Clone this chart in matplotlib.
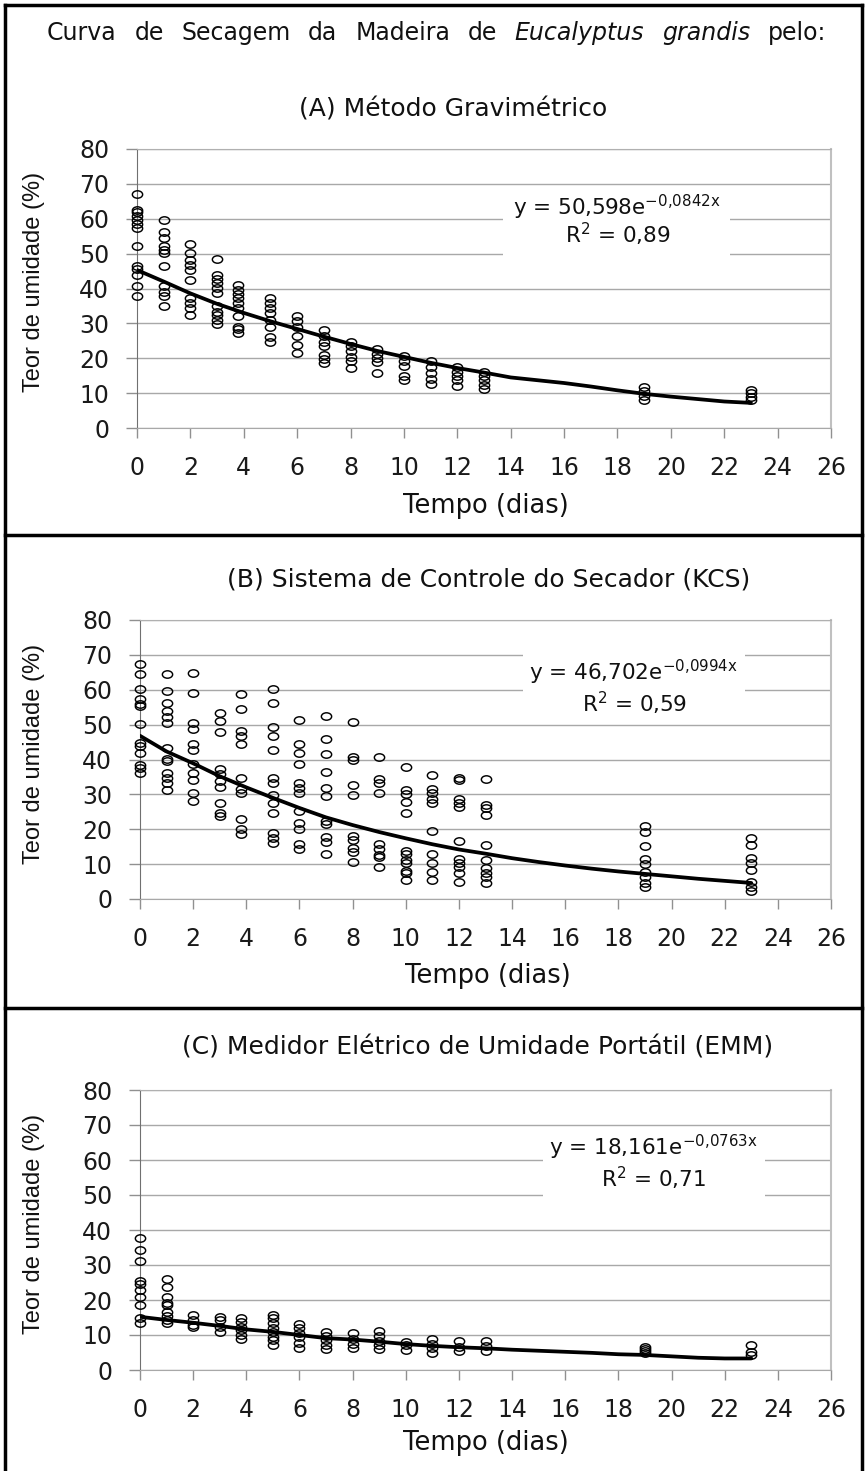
import matplotlib
matplotlib.use('Agg')
import matplotlib.pyplot as plt
from matplotlib.lines import Line2D
from matplotlib.patches import Rectangle
from matplotlib.path import Path
from matplotlib.transforms import Affine2D

# ---- data ----
days = [0, 1, 2, 3, 3.8, 5, 6, 7, 8, 9, 10, 11, 12, 13, 19, 23]

grav = [
    [67.1, 62.6, 61.8, 60.8, 59.7, 58.5, 57.3, 52.2, 46.5, 45.5, 43.9, 40.8, 37.9],
    [59.7, 56.3, 54.4, 52.2, 51.1, 50.1, 46.5, 40.6, 39.1, 37.9, 34.9],
    [52.8, 50.3, 48.2, 46.8, 45.4, 42.3, 37.2, 35.8, 34.4, 32.5],
    [48.4, 43.9, 42.7, 41.7, 40.1, 38.7, 34.9, 33.4, 32.5, 31.0, 29.9],
    [41.1, 39.6, 38.5, 37.2, 35.8, 34.4, 32.0, 29.1, 28.4, 27.2],
    [37.2, 35.8, 34.4, 33.1, 31.0, 29.1, 26.1, 24.8],
    [32.0, 30.6, 29.1, 26.3, 23.9, 21.5],
    [28.0, 26.3, 24.8, 23.4, 21.0, 19.8, 18.6],
    [24.8, 23.4, 22.0, 20.5, 19.1, 17.2],
    [22.6, 21.3, 20.1, 18.8, 15.8],
    [20.7, 19.1, 17.7, 14.8, 13.8],
    [19.1, 17.5, 15.8, 14.0, 12.7],
    [17.5, 16.2, 15.0, 13.8, 12.1],
    [16.2, 14.8, 13.8, 12.4, 11.2],
    [11.7, 10.5, 9.3, 8.1],
    [10.8, 9.9, 9.0, 8.1],
]

kcs = [
    [67.4, 64.4, 60.1, 57.3, 55.9, 55.2, 50.1, 44.7, 43.9, 42.0, 38.4, 37.5, 36.1],
    [64.4, 59.7, 56.3, 54.0, 52.3, 50.4, 43.2, 40.1, 39.7, 36.2, 34.6, 33.2, 31.3],
    [64.7, 59.2, 50.4, 48.7, 44.5, 42.6, 38.7, 36.1, 34.1, 30.3, 28.2],
    [53.3, 50.9, 47.8, 37.2, 35.9, 33.7, 32.2, 27.6, 24.8, 23.8],
    [58.7, 54.4, 48.3, 46.6, 44.5, 34.6, 31.5, 30.3, 22.9, 20.0, 18.6],
    [60.1, 56.1, 49.2, 46.6, 42.6, 34.6, 33.2, 29.8, 27.4, 24.6, 18.8, 17.4, 16.2],
    [51.2, 44.5, 42.0, 38.7, 33.4, 31.7, 30.5, 25.3, 21.7, 20.0, 15.8, 14.3],
    [52.5, 45.9, 41.6, 36.5, 31.7, 29.5, 22.5, 21.4, 17.9, 16.4, 12.8],
    [50.7, 40.8, 39.9, 32.7, 29.8, 18.1, 16.9, 14.5, 13.6, 10.7],
    [40.8, 34.3, 33.4, 30.3, 15.8, 14.4, 12.6, 11.9, 9.3],
    [37.8, 31.3, 30.1, 27.9, 24.8, 13.9, 12.9, 11.2, 10.4, 8.1, 7.5, 5.5],
    [35.6, 31.5, 30.3, 28.6, 27.4, 19.6, 12.8, 10.4, 7.8, 5.5],
    [34.6, 34.1, 28.6, 27.4, 26.5, 16.7, 11.4, 10.2, 9.3, 7.5, 5.0],
    [34.3, 27.0, 26.0, 24.1, 15.5, 11.2, 8.8, 7.5, 6.2, 4.5],
    [20.9, 19.3, 15.2, 11.4, 10.0, 7.8, 6.2, 4.7, 3.5],
    [17.6, 15.5, 11.7, 10.2, 8.3, 5.0, 3.5, 2.2],
]

emm = [
    [37.6, 34.3, 31.2, 25.5, 24.6, 23.0, 20.8, 18.6, 15.0, 13.3],
    [25.9, 23.6, 21.0, 19.2, 18.6, 16.7, 15.4, 14.3, 13.5],
    [15.7, 14.3, 12.9, 12.2],
    [15.2, 14.3, 12.4, 10.9],
    [14.8, 13.8, 12.4, 11.4, 10.0, 9.0],
    [15.7, 14.8, 13.3, 11.9, 10.9, 9.5, 8.6, 7.1],
    [13.1, 11.9, 10.5, 9.3, 7.6, 6.2],
    [10.9, 9.7, 8.6, 7.1, 5.9],
    [10.5, 8.8, 7.4, 6.2],
    [11.2, 9.7, 8.4, 7.1, 5.9],
    [8.1, 7.1, 5.7],
    [8.8, 7.4, 6.2, 5.0],
    [8.4, 6.7, 5.5],
    [8.4, 6.9, 5.5],
    [6.5, 6.0, 5.5, 5.0],
    [7.1, 5.2, 4.3],
]

# trend lines as drawn in the picture
curve_days = list(range(0, 24))
curve_grav = [45.3, 42.0, 38.6, 35.6, 33.0, 30.6, 28.4, 26.2, 24.1, 22.1, 20.4, 18.7,
              17.2, 15.9, 14.5, 13.7, 12.9, 11.9, 10.8, 9.8, 9.0, 8.3, 7.6, 7.2]
curve_kcs = [46.8, 42.3, 38.9, 35.2, 32.0, 29.0, 26.1, 23.4, 21.2, 19.2, 17.4, 15.7,
             14.2, 13.0, 11.7, 10.6, 9.6, 8.7, 7.9, 7.2, 6.5, 5.8, 5.2, 4.6]
curve_emm = [15.2, 14.3, 13.5, 12.6, 11.6, 10.9, 10.0, 9.1, 8.7, 8.1, 7.4, 6.9,
             6.5, 6.2, 5.8, 5.5, 5.2, 4.9, 4.5, 4.3, 3.9, 3.5, 3.3, 3.3]

titles = ['(A) Método Gravimétrico',
          '(B) Sistema de Controle do Secador (KCS)',
          '(C) Medidor Elétrico de Umidade Portátil (EMM)']
eq_base = ['y = 50,598e', 'y = 46,702e', 'y = 18,161e']
eq_exp = ['-0,0842x', '-0,0994x', '-0,0763x']
r2_vals = ['0,89', '0,59', '0,71']

x_ticks = list(range(0, 27, 2))
y_ticks = list(range(0, 81, 10))

# ---- layout (pixels) ----
W, H = 867, 1471

def fx(px):
    return px / W

def fy(py):
    return 1 - py / H

# axes box: left, right, top(80), bottom(0)
layout = [
    dict(ax=(137, 831, 149, 428), title=(453, 117), xlab=(486, 513), ylab=282,
         box=(503, 730, 192, 262), eq=(617, 215), r2=(618, 243)),
    dict(ax=(140, 831, 620, 899), title=(489, 587), xlab=(488, 983), ylab=754,
         box=(523, 745, 645, 700), eq=(633, 680), r2=(634, 712)),
    dict(ax=(140, 831, 1090, 1370), title=(478, 1055), xlab=(486, 1450), ylab=1224,
         box=(543, 765, 1130, 1200), eq=(653, 1155), r2=(653, 1187)),
]

ellipse = Path.unit_circle().transformed(Affine2D().scale(1.0, 0.72))

fig = plt.figure(figsize=(W / 100, H / 100), dpi=100)
fig.patch.set_facecolor('white')


# Draw one panel
def drawPanel(spec, values, curve, title, eqb, eqe, r2):
    l, r, t, b = spec['ax']
    ax = fig.add_axes([fx(l), fy(b), fx(r) - fx(l), fy(t) - fy(b)])
    for d, vals in zip(days, values):
        ax.plot([d] * len(vals), vals, linestyle='none', marker=ellipse, ms=7.4,
                mfc='none', mec='black', mew=1.05, zorder=3, clip_on=False)
    ax.plot(curve_days, curve, color='black', lw=2.7, solid_capstyle='round', zorder=4)

    ax.set_xlim(0, 26)
    ax.set_ylim(0, 80)
    ax.set_xticks(x_ticks)
    ax.set_yticks(y_ticks)
    ax.set_axisbelow(True)
    ax.yaxis.grid(True, color='#a8a8a8', lw=1.0)
    ax.tick_params(axis='x', direction='out', length=7, width=1, color='#909090',
                   pad=13, labelsize=17)
    ax.tick_params(axis='y', direction='out', length=8, width=1, color='#909090',
                   pad=12, labelsize=17)
    for lab in ax.get_xticklabels() + ax.get_yticklabels():
        lab.set_fontfamily('DejaVu Sans')
        lab.set_color('#1a1a1a')
    ax.spines['left'].set_color('#707070')
    ax.spines['bottom'].set_color('#a8a8a8')
    ax.spines['top'].set_color('#b0b0b0')
    ax.spines['right'].set_color('#c0c0c0')
    ax.spines['right'].set_linewidth(1.5)

    # titles and labels
    tx, ty = spec['title']
    fig.text(fx(tx), fy(ty), title, ha='center', va='baseline', fontsize=18,
             family='DejaVu Sans', color='#111111')
    lx, ly = spec['xlab']
    fig.text(fx(lx), fy(ly), 'Tempo (dias)', ha='center', va='baseline', fontsize=18.5,
             family='DejaVu Sans', color='#111111')
    fig.text(fx(34), fy(spec['ylab']), 'Teor de umidade (%)', rotation=90,
             ha='center', va='center', fontsize=17, family='Liberation Sans',
             color='#111111')

    # equation box
    x0, x1, y0, y1 = spec['box']
    fig.add_artist(Rectangle((fx(x0), fy(y1)), fx(x1) - fx(x0), fy(y0) - fy(y1),
                             transform=fig.transFigure, facecolor='white',
                             edgecolor='none', zorder=5))
    ex, ey = spec['eq']
    sup = eqe.replace(',', '{,}')
    fig.text(fx(ex), fy(ey), eqb + r'$^{\mathregular{' + sup + '}}$', ha='center',
             va='baseline', fontsize=15.5, family='DejaVu Sans', color='#111111', zorder=6)
    rx, ry = spec['r2']
    fig.text(fx(rx), fy(ry), r'R$^{\mathregular{2}}$ = ' + r2, ha='center',
             va='baseline', fontsize=15.5, family='DejaVu Sans', color='#111111', zorder=6)
    return ax


drawPanel(layout[0], grav, curve_grav, titles[0], eq_base[0], eq_exp[0], r2_vals[0])
drawPanel(layout[1], kcs, curve_kcs, titles[1], eq_base[1], eq_exp[1], r2_vals[1])
drawPanel(layout[2], emm, curve_emm, titles[2], eq_base[2], eq_exp[2], r2_vals[2])

# Top title, justified across the width
words = [('Curva', 'normal'), ('de', 'normal'), ('Secagem', 'normal'), ('da', 'normal'),
         ('Madeira', 'normal'), ('de', 'normal'), ('Eucalyptus', 'italic'),
         ('grandis', 'italic'), ('pelo:', 'normal')]
renderer = fig.canvas.get_renderer()
texts = []
widths = []
for w, st in words:
    t = fig.text(0, fy(40), w, style=st, fontsize=17, family='DejaVu Sans',
                 va='baseline', ha='left', color='#111111')
    texts.append(t)
    widths.append(t.get_window_extent(renderer).width)
left_px, right_px = 47, 826
gap = (right_px - left_px - sum(widths)) / (len(words) - 1)
pos = left_px
for t, w in zip(texts, widths):
    t.set_x(fx(pos))
    pos += w + gap

# frame lines
def frameLine(x, y):
    fig.add_artist(Line2D([fx(v) for v in x], [fy(v) for v in y],
                          transform=fig.transFigure, color='black', lw=2.5, zorder=10))

frameLine([5, 5], [5, 1471])
frameLine([862, 862], [5, 1471])
frameLine([5, 862], [5, 5])
frameLine([5, 862], [535, 535])
frameLine([5, 862], [1008, 1008])

fig.savefig('out.png', dpi=100)
